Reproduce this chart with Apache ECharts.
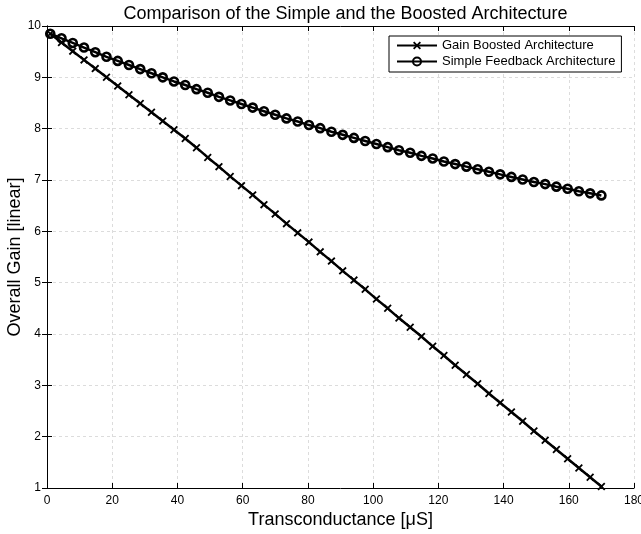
<!DOCTYPE html>
<html>
<head>
<meta charset="utf-8">
<script src="https://cdn.jsdelivr.net/npm/echarts@6/dist/echarts.min.js"></script>
<style>html,body{margin:0;padding:0;background:#fff;}#c{width:641px;height:534px;}</style>
</head>
<body>
<div id="c"></div>
<script>
var titleText = 'Comparison of the Simple and the Boosted Architecture';
var xName = 'Transconductance [\u03bcS]';
var yName = 'Overall Gain [linear]';
var seriesNames = ['Gain Boosted Architecture', 'Simple Feedback Architecture'];
var xTicks = [0, 20, 40, 60, 80, 100, 120, 140, 160, 180];
var yTicks = [1, 2, 3, 4, 5, 6, 7, 8, 9, 10];

var gm = [1.00, 4.45, 7.90, 11.35, 14.80, 18.24, 21.69, 25.14, 28.59, 32.04,
  35.49, 38.94, 42.39, 45.84, 49.29, 52.73, 56.18, 59.63, 63.08, 66.53,
  69.98, 73.43, 76.88, 80.33, 83.78, 87.22, 90.67, 94.12, 97.57, 101.02,
  104.47, 107.92, 111.37, 114.82, 118.27, 121.71, 125.16, 128.61, 132.06, 135.51,
  138.96, 142.41, 145.86, 149.31, 152.76, 156.20, 159.65, 163.10, 166.55, 170.00];

var gainBoosted = [9.85, 9.68, 9.51, 9.34, 9.17, 9.00, 8.83, 8.66, 8.49, 8.32,
  8.15, 7.98, 7.81, 7.63, 7.44, 7.26, 7.07, 6.89, 6.71, 6.52,
  6.34, 6.15, 5.97, 5.79, 5.60, 5.42, 5.23, 5.05, 4.87, 4.68,
  4.50, 4.31, 4.13, 3.95, 3.76, 3.58, 3.39, 3.21, 3.03, 2.84,
  2.66, 2.48, 2.30, 2.11, 1.93, 1.75, 1.57, 1.39, 1.21, 1.03];

var simpleFeedback = [9.85, 9.76, 9.67, 9.58, 9.49, 9.40, 9.32, 9.24, 9.16, 9.08,
  9.00, 8.92, 8.85, 8.77, 8.70, 8.62, 8.55, 8.48, 8.41, 8.34,
  8.27, 8.20, 8.14, 8.07, 8.01, 7.94, 7.88, 7.82, 7.76, 7.70,
  7.64, 7.58, 7.53, 7.47, 7.42, 7.36, 7.31, 7.26, 7.21, 7.16,
  7.11, 7.06, 7.01, 6.96, 6.92, 6.87, 6.83, 6.78, 6.74, 6.70];

function pairs(xs, ys) { return xs.map(function (x, i) { return [x, ys[i]]; }); }

var FONT = 'Liberation Sans, Arial, sans-serif';
var xMin = xTicks[0], xMax = xTicks[xTicks.length - 1], xStep = xTicks[1] - xTicks[0];
var yMin = yTicks[0], yMax = yTicks[yTicks.length - 1], yStep = yTicks[1] - yTicks[0];

var crossPath = 'path://M0,1.6L1.6,0L5,3.4L8.4,0L10,1.6L6.6,5L10,8.4L8.4,10L5,6.6L1.6,10L0,8.4L3.4,5Z';

var chart = echarts.init(document.getElementById('c'), null, {renderer: 'canvas'});
var axisLine = {show: true, lineStyle: {color: '#000', width: 1}};
var tick = {show: true, inside: true, length: 5, lineStyle: {color: '#000'}};
var grid = {show: true, lineStyle: {color: '#dcdcdc', type: [3, 3], width: 1}};

chart.setOption({
  animation: false,
  backgroundColor: '#fff',
  title: {
    text: titleText, left: 340.5, top: 0, textAlign: 'center',
    textStyle: {fontFamily: FONT, fontSize: 18, fontWeight: 'normal', color: '#000'}
  },
  grid: {left: 47, right: 7, top: 26, bottom: 46, containLabel: false, outerBoundsMode: 'none'},
  legend: {
    orient: 'vertical', left: 389, top: 36,
    padding: [3, 6, 4, 7], itemGap: 3, itemWidth: 40, itemHeight: 10,
    borderColor: '#000', borderWidth: 1, backgroundColor: '#fff',
    textStyle: {fontFamily: FONT, fontSize: 13, color: '#000'},
    data: seriesNames
  },
  xAxis: [{
    type: 'value', min: xMin, max: xMax, interval: xStep, position: 'bottom',
    name: xName, nameLocation: 'middle', nameGap: 23, nameMoveOverlap: false,
    nameTextStyle: {fontFamily: FONT, fontSize: 18, color: '#000'},
    axisLine: axisLine, axisTick: tick, splitLine: grid,
    axisLabel: {fontFamily: FONT, fontSize: 12, color: '#000', margin: 7}
  }, {
    type: 'value', min: xMin, max: xMax, interval: xStep, position: 'top',
    axisLine: axisLine, axisTick: tick, splitLine: {show: false}, axisLabel: {show: false}
  }],
  yAxis: [{
    type: 'value', min: yMin, max: yMax, interval: yStep, position: 'left',
    name: yName, nameLocation: 'middle', nameGap: 23, nameRotate: 90, nameMoveOverlap: false,
    nameTextStyle: {fontFamily: FONT, fontSize: 18, color: '#000'},
    axisLine: axisLine, axisTick: tick, splitLine: grid,
    axisLabel: {fontFamily: FONT, fontSize: 12, color: '#000', margin: 6}
  }, {
    type: 'value', min: yMin, max: yMax, interval: yStep, position: 'right',
    axisLine: axisLine, axisTick: tick, splitLine: {show: false}, axisLabel: {show: false}
  }],
  series: [{
    name: seriesNames[0], type: 'line', data: pairs(gm, gainBoosted),
    symbol: crossPath, symbolSize: 8, showAllSymbol: true,
    lineStyle: {color: '#000', width: 2.5},
    itemStyle: {color: '#000', borderWidth: 0},
    emphasis: {disabled: true}, z: 3
  }, {
    name: seriesNames[1], type: 'line', data: pairs(gm, simpleFeedback),
    symbol: 'circle', symbolSize: 8, showAllSymbol: true,
    lineStyle: {color: '#000', width: 2.5},
    itemStyle: {color: 'rgba(0,0,0,0)', borderColor: '#000', borderWidth: 2.6},
    emphasis: {disabled: true}, z: 4
  }]
});
</script>
</body>
</html>
